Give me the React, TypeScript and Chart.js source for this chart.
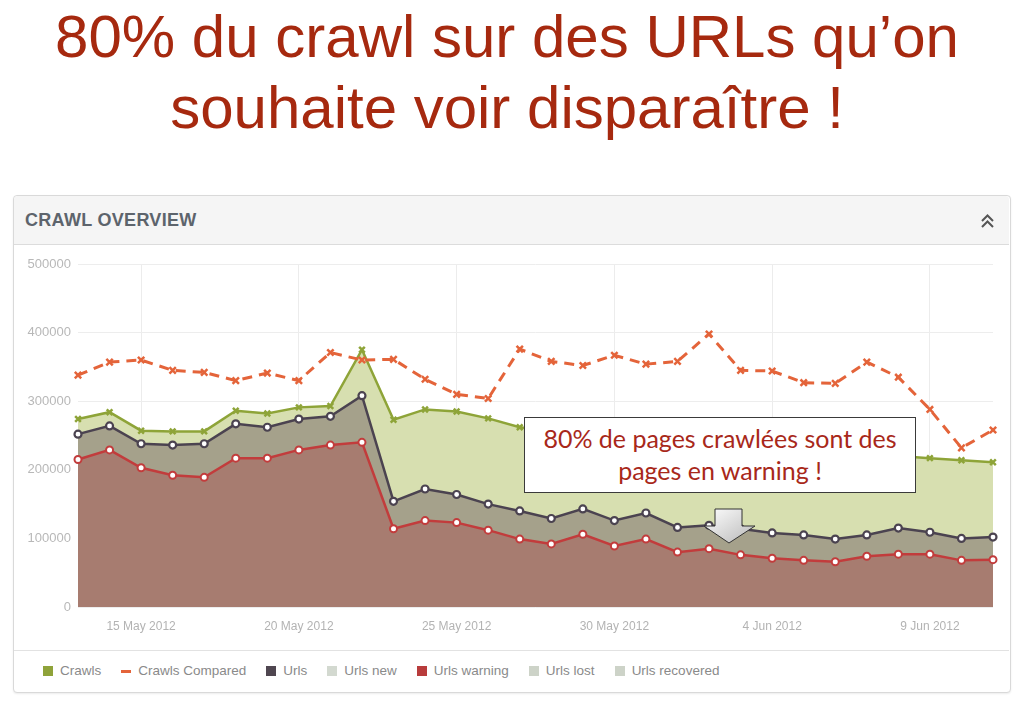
import React, { useEffect, useRef } from 'react';
import { Chart, registerables } from 'chart.js';

Chart.register(...registerables);

// ---------- data ----------
const dates = [
  '13 May 2012', '14 May 2012', '15 May 2012', '16 May 2012', '17 May 2012',
  '18 May 2012', '19 May 2012', '20 May 2012', '21 May 2012', '22 May 2012',
  '23 May 2012', '24 May 2012', '25 May 2012', '26 May 2012', '27 May 2012',
  '28 May 2012', '29 May 2012', '30 May 2012', '31 May 2012', '1 Jun 2012',
  '2 Jun 2012', '3 Jun 2012', '4 Jun 2012', '5 Jun 2012', '6 Jun 2012',
  '7 Jun 2012', '8 Jun 2012', '9 Jun 2012', '10 Jun 2012', '11 Jun 2012',
];
const tickDates = ['15 May 2012', '20 May 2012', '25 May 2012', '30 May 2012', '4 Jun 2012', '9 Jun 2012'];
const yTicks = [0, 100000, 200000, 300000, 400000, 500000];

const crawls = [
  274000, 284000, 257000, 256000, 256000, 286000, 282000, 291000, 293000, 375000,
  273000, 288000, 285000, 275000, 262000, 257000, 252000, 248000, 244000, 240000,
  236000, 233000, 230000, 227000, 225000, 222000, 220000, 217000, 214000, 211000,
];
const crawlsCompared = [
  338000, 357000, 360000, 345000, 342000, 330000, 341000, 330000, 371000, 360000,
  361000, 332000, 310000, 304000, 376000, 358000, 352000, 367000, 354000, 358000,
  398000, 345000, 344000, 327000, 326000, 357000, 335000, 288000, 232000, 258000,
];
const urls = [
  252000, 264000, 238000, 236000, 238000, 267000, 262000, 274000, 278000, 308000,
  154000, 172000, 164000, 150000, 140000, 129000, 143000, 126000, 137000, 116000,
  119000, 114000, 108000, 105000, 99000, 105000, 115000, 109000, 100000, 102000,
];
const urlsWarning = [
  215000, 229000, 203000, 192000, 189000, 217000, 217000, 229000, 236000, 240000,
  114000, 126000, 123000, 112000, 99000, 92000, 106000, 89000, 99000, 80000,
  85000, 76000, 71000, 68000, 66000, 74000, 77000, 77000, 68000, 69000,
];

const legendNames = ['Crawls', 'Crawls Compared', 'Urls', 'Urls new', 'Urls warning', 'Urls lost', 'Urls recovered'];
const legendColors = ['#8fa33a', '#e4643a', '#4f4650', '#d3d9d0', '#b83c3c', '#cdd3c8', '#cdd3c8'];

const titleLines = ['80% du crawl sur des URLs qu\u2019on', 'souhaite voir dispara\u00eetre !'];
const noteLines = ['80% de pages crawl\u00e9es sont des', 'pages en warning !'];

// ---------- styles ----------
const GREEN = '#8ea438';
const GREEN_FILL = '#d7dfb0';
const ORANGE = '#e4643a';
const DARK = '#4b4350';
const DARK_FILL = '#a5a18b';
const RED = '#c23c3c';
const RED_FILL = '#a77c70';

export default function App() {
  const ref = useRef<HTMLCanvasElement>(null);

  useEffect(() => {
    const chart = new Chart(ref.current as HTMLCanvasElement, {
      type: 'line',
      data: {
        labels: dates,
        datasets: [
          {
            label: 'Crawls Compared',
            data: crawlsCompared,
            borderColor: ORANGE,
            borderWidth: 3,
            borderDash: [10, 7],
            pointStyle: 'crossRot',
            pointRadius: 4.5,
            pointBorderWidth: 2.5,
            pointBorderColor: ORANGE,
            pointBackgroundColor: ORANGE,
            fill: false,
            tension: 0,
            clip: false as any,
          },
          {
            label: 'Urls warning',
            data: urlsWarning,
            borderColor: RED,
            borderWidth: 2.5,
            backgroundColor: RED_FILL,
            pointStyle: 'circle',
            pointRadius: 3.5,
            pointBorderWidth: 2,
            pointBorderColor: RED,
            pointBackgroundColor: '#ffffff',
            fill: 'origin',
            tension: 0,
            clip: false as any,
          },
          {
            label: 'Urls',
            data: urls,
            borderColor: DARK,
            borderWidth: 2.5,
            backgroundColor: DARK_FILL,
            pointStyle: 'circle',
            pointRadius: 3.5,
            pointBorderWidth: 2.2,
            pointBorderColor: DARK,
            pointBackgroundColor: '#ffffff',
            fill: 'origin',
            tension: 0,
            clip: false as any,
          },
          {
            label: 'Crawls',
            data: crawls,
            borderColor: GREEN,
            borderWidth: 2.5,
            backgroundColor: GREEN_FILL,
            pointStyle: 'crossRot',
            pointRadius: 4,
            pointBorderWidth: 2.5,
            pointBorderColor: GREEN,
            pointBackgroundColor: GREEN,
            fill: 'origin',
            tension: 0,
            clip: false as any,
          },
        ],
      },
      options: {
        responsive: false,
        animation: false,
        events: [],
        layout: { padding: { top: 18, right: 17, left: 0, bottom: 0 } },
        plugins: {
          legend: { display: false },
          tooltip: { enabled: false },
        },
        scales: {
          x: {
            type: 'category',
            offset: false,
            border: { display: false },
            grid: {
              drawTicks: false,
              color: (ctx: any) => (tickDates.includes(dates[ctx.index]) ? '#ececec' : 'rgba(0,0,0,0)'),
              lineWidth: 1,
            },
            ticks: {
              autoSkip: false,
              maxRotation: 0,
              minRotation: 0,
              padding: 12,
              color: '#b3b3b3',
              font: { family: '"Liberation Sans", Arial, sans-serif', size: 12 },
              callback: (_v: any, i: number) => (tickDates.includes(dates[i]) ? dates[i] : ''),
            },
            afterFit: (s: any) => {
              s.height = 43;
            },
          },
          y: {
            min: yTicks[0],
            max: yTicks[yTicks.length - 1],
            border: { display: false },
            grid: { drawTicks: false, color: '#ededed', lineWidth: 1 },
            afterBuildTicks: (s: any) => {
              s.ticks = yTicks.map((v) => ({ value: v }));
            },
            ticks: {
              padding: 7,
              color: '#b8b8b8',
              font: { family: '"Liberation Sans", Arial, sans-serif', size: 13 },
              callback: (v: any) => String(v),
            },
            afterFit: (s: any) => {
              s.width = 65;
            },
          },
        },
      },
    });
    return () => chart.destroy();
  }, []);

  return (
    <div
      style={{
        position: 'absolute',
        left: 0,
        top: 0,
        width: 1024,
        height: 705,
        background: '#ffffff',
        overflow: 'hidden',
        fontFamily: '"Liberation Sans", Arial, sans-serif',
      }}
    >
      {titleLines.map((t, i) => (
        <div
          key={i}
          style={{
            position: 'absolute',
            left: 0,
            width: 1014,
            top: 1 + i * 71,
            lineHeight: '71px',
            fontSize: 60,
            textAlign: 'center',
            color: '#a6290f',
            whiteSpace: 'nowrap',
          }}
        >
          {t}
        </div>
      ))}

      {/* panel */}
      <div
        style={{
          position: 'absolute',
          left: 13,
          top: 195,
          width: 996,
          height: 496,
          border: '1px solid #d9d9d9',
          borderRadius: 4,
          boxShadow: '0 1px 2px rgba(0,0,0,0.08)',
          background: '#ffffff',
        }}
      />
      <div
        style={{
          position: 'absolute',
          left: 14,
          top: 196,
          width: 995,
          height: 48,
          background: '#f5f5f5',
          borderBottom: '1px solid #dcdcdc',
          borderRadius: '4px 4px 0 0',
        }}
      />
      <div
        style={{
          position: 'absolute',
          left: 25,
          top: 208,
          lineHeight: '24px',
          fontSize: 18,
          fontWeight: 700,
          letterSpacing: 0.3,
          color: '#5d646c',
        }}
      >
        CRAWL OVERVIEW
      </div>
      <svg style={{ position: 'absolute', left: 978, top: 210, width: 20, height: 22 }} viewBox="0 0 20 22">
        <polyline points="4,11 9.5,5.5 15,11" fill="none" stroke="#555" strokeWidth={2} />
        <polyline points="4,17 9.5,11.5 15,17" fill="none" stroke="#555" strokeWidth={2} />
      </svg>

      <canvas
        ref={ref}
        width={997}
        height={404}
        style={{ position: 'absolute', left: 13, top: 246, width: 997, height: 404 }}
      />

      {/* legend */}
      <div
        style={{
          position: 'absolute',
          left: 14,
          top: 650,
          width: 995,
          borderTop: '1px solid #e2e2e2',
        }}
      />
      <div
        style={{
          position: 'absolute',
          left: 43,
          top: 662,
          display: 'flex',
          alignItems: 'center',
          gap: 20,
          fontSize: 13.5,
          lineHeight: '18px',
          color: '#8a8a8a',
          whiteSpace: 'nowrap',
        }}
      >
        {legendNames.map((n, i) => (
          <div key={n} style={{ display: 'flex', alignItems: 'center', gap: 7 }}>
            <div
              style={{
                width: 10,
                height: i === 1 ? 3 : 10,
                background: legendColors[i],
              }}
            />
            <span>{n}</span>
          </div>
        ))}
      </div>

      {/* annotation */}
      <div
        style={{
          position: 'absolute',
          left: 524,
          top: 417,
          width: 392,
          height: 76,
          border: '1.5px solid #3a3a3a',
          background: '#ffffff',
          textAlign: 'center',
          color: '#a8281a',
          fontFamily: 'Lato, "Open Sans", sans-serif',
          fontSize: 25,
          lineHeight: '31.5px',
          paddingTop: 5,
          boxSizing: 'border-box',
          whiteSpace: 'nowrap',
        }}
      >
        {noteLines.map((t, i) => (
          <div key={i}>{t}</div>
        ))}
      </div>
      <svg style={{ position: 'absolute', left: 0, top: 0, width: 1024, height: 705, pointerEvents: 'none' }}>
        <defs>
          <linearGradient id="arrowGrad" x1="0" y1="0" x2="1" y2="1">
            <stop offset="0" stopColor="#ffffff" />
            <stop offset="1" stopColor="#b8b8b8" />
          </linearGradient>
        </defs>
        <polygon
          points="715,509 742,509 742,526 755,526 729,543 704,526 715,526"
          fill="url(#arrowGrad)"
          stroke="#333"
          strokeWidth={1}
        />
      </svg>
    </div>
  );
}
